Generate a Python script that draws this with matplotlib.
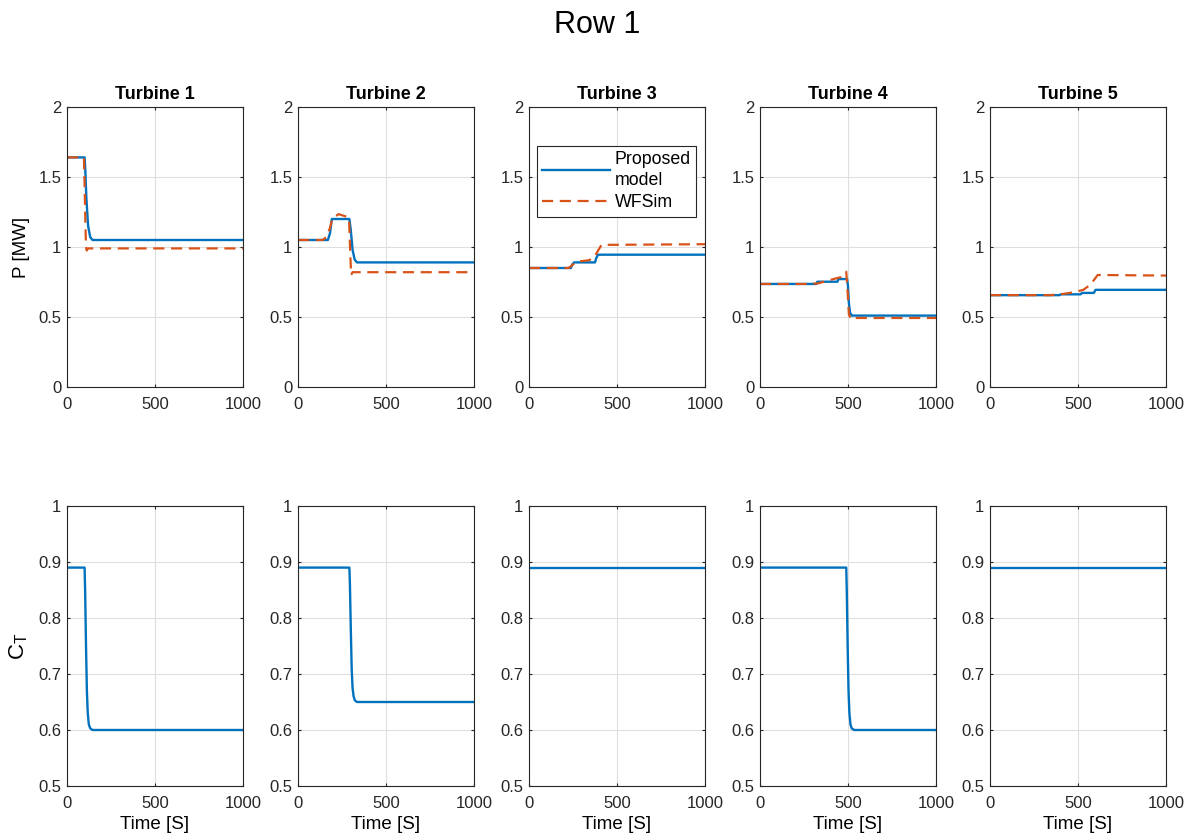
import numpy as np
import matplotlib.pyplot as plt

plt.rcParams['font.family'] = ['Liberation Sans', 'DejaVu Sans']

BLUE = "#0072BD"
ORANGE = "#D95319"

titles = ["Turbine 1", "Turbine 2", "Turbine 3", "Turbine 4", "Turbine 5"]

# power, proposed model: (time, MW) knots per turbine
p_model_t = [
    [0, 100, 104, 110, 120, 132, 145, 1000],
    [0, 170, 182, 192, 292, 300, 310, 322, 335, 1000],
    [0, 238, 246, 256, 375, 382, 392, 1000],
    [0, 320, 326, 440, 446, 495, 500, 505, 512, 522, 1000],
    [0, 395, 402, 515, 522, 590, 600, 1000],
]
p_model_v = [
    [1.64, 1.64, 1.55, 1.35, 1.15, 1.07, 1.05, 1.05],
    [1.05, 1.05, 1.10, 1.20, 1.20, 1.12, 0.98, 0.91, 0.89, 0.89],
    [0.85, 0.85, 0.875, 0.89, 0.89, 0.92, 0.945, 0.945],
    [0.736, 0.736, 0.752, 0.752, 0.771, 0.771, 0.72, 0.60, 0.53, 0.51, 0.51],
    [0.656, 0.656, 0.662, 0.662, 0.672, 0.672, 0.694, 0.694],
]

# power, WFSim
p_wfs_t = [
    [0, 96, 100, 104, 108, 112, 120, 135, 1000],
    [0, 140, 160, 180, 195, 230, 280, 290, 297, 302, 310, 1000],
    [0, 225, 245, 270, 340, 370, 395, 412, 1000],
    [0, 250, 330, 400, 460, 490, 497, 505, 515, 530, 1000],
    [0, 340, 400, 470, 530, 570, 612, 1000],
]
p_wfs_v = [
    [1.64, 1.64, 1.45, 1.2, 1.0, 0.975, 0.99, 0.99, 0.99],
    [1.05, 1.05, 1.07, 1.13, 1.20, 1.235, 1.215, 1.2, 0.95, 0.80, 0.82, 0.82],
    [0.85, 0.85, 0.87, 0.895, 0.905, 0.925, 0.98, 1.015, 1.02],
    [0.736, 0.736, 0.74, 0.765, 0.785, 0.823, 0.70, 0.52, 0.486, 0.493, 0.493],
    [0.656, 0.656, 0.662, 0.675, 0.694, 0.73, 0.80, 0.796],
]

# thrust coefficient, proposed model
ct_t = [
    [0, 100, 103, 108, 113, 118, 124, 132, 145, 1000],
    [0, 292, 295, 300, 305, 310, 316, 323, 335, 1000],
    [0, 1000],
    [0, 490, 493, 498, 503, 508, 514, 521, 535, 1000],
    [0, 1000],
]
ct_v = [
    [0.89, 0.89, 0.85, 0.75, 0.67, 0.63, 0.61, 0.603, 0.60, 0.60],
    [0.89, 0.89, 0.86, 0.78, 0.71, 0.675, 0.66, 0.653, 0.65, 0.65],
    [0.89, 0.89],
    [0.89, 0.89, 0.85, 0.75, 0.67, 0.63, 0.61, 0.603, 0.60, 0.60],
    [0.89, 0.89],
]


def style_axes(ax):
    ax.set_xlim(0, 1000)
    ax.set_xticks([0, 500, 1000])
    ax.grid(True, color="#dfdfdf", linewidth=0.8)
    ax.set_axisbelow(True)
    ax.tick_params(direction="in", top=True, right=True, labelsize=12,
                   colors="#262626", length=2.5)
    ax.tick_params(axis="x", pad=7)
    ax.tick_params(axis="y", pad=4)
    for s in ax.spines.values():
        s.set_color("#262626")
        s.set_linewidth(0.8)


fig = plt.figure(figsize=(11.95, 8.39), dpi=100)
fig.suptitle("Row 1", fontsize=22, y=1 - 25 / 839, va="center")

lefts = [67, 298, 529, 760, 990]
W, H = 1195, 839
for i in range(5):
    axp = fig.add_axes([lefts[i] / W, 1 - 387 / H, 176 / W, 280 / H])
    axc = fig.add_axes([lefts[i] / W, 1 - 786 / H, 176 / W, 280 / H])

    axp.plot(p_model_t[i], p_model_v[i], color=BLUE, lw=1.7, label="Proposed\nmodel")
    axp.plot(p_wfs_t[i], p_wfs_v[i], color=ORANGE, lw=1.6, ls=(0, (5, 3)), label="WFSim")
    axp.set_ylim(0, 2)
    axp.set_yticks([0, 0.5, 1, 1.5, 2])
    axp.set_yticklabels(["0", "0.5", "1", "1.5", "2"])
    axp.set_title(titles[i], fontsize=13, fontweight="bold", pad=6)
    style_axes(axp)

    axc.plot(ct_t[i], ct_v[i], color=BLUE, lw=1.7)
    axc.set_ylim(0.5, 1)
    axc.set_yticks([0.5, 0.6, 0.7, 0.8, 0.9, 1])
    axc.set_yticklabels(["0.5", "0.6", "0.7", "0.8", "0.9", "1"])
    axc.set_xlabel("Time [S]", fontsize=13.5, labelpad=4)
    style_axes(axc)

    if i == 0:
        axp.set_ylabel("P [MW]", fontsize=13.5, labelpad=6)
        axc.set_ylabel("C$_\\mathregular{T}$", fontsize=16, labelpad=6)
    if i == 2:
        leg = axp.legend(loc="upper left", bbox_to_anchor=(0.044, 0.861),
                         fontsize=12.8, fancybox=False, edgecolor="#262626",
                         framealpha=1, handlelength=3.8, handletextpad=0.3,
                         borderpad=0.3, borderaxespad=0, labelspacing=0.3)
        leg.get_frame().set_linewidth(0.8)
        for t in leg.get_texts():
            t.set_linespacing(1.3)

fig.savefig("out.png", dpi=100)
